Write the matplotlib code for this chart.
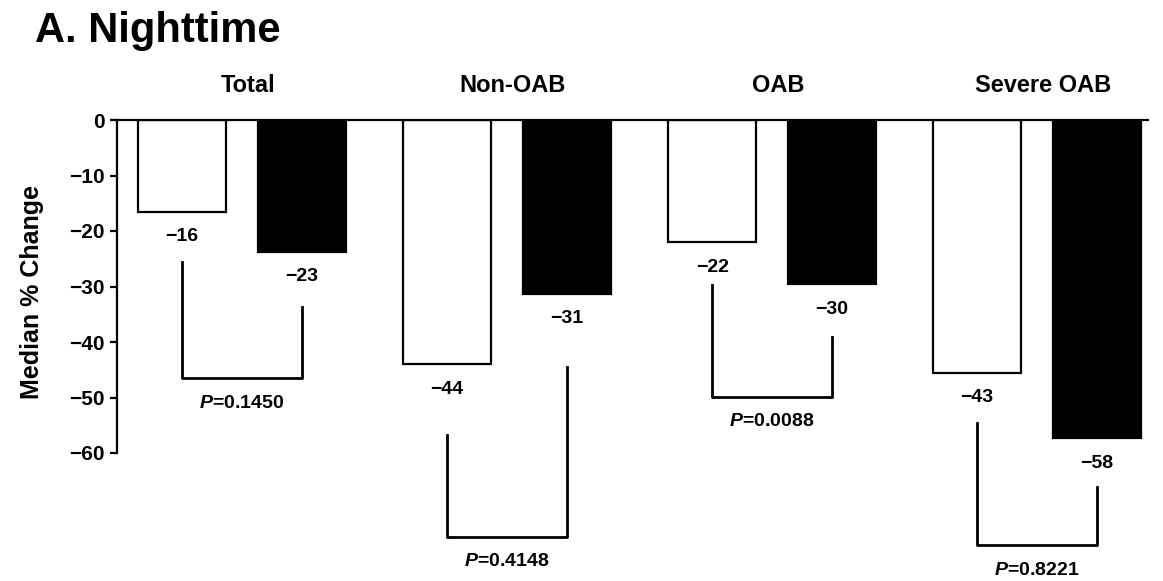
import matplotlib
matplotlib.use("Agg")
import matplotlib.pyplot as plt
import matplotlib.transforms as mtransforms
import numpy as np

plt.rcParams['font.family'] = ['Liberation Sans', 'DejaVu Sans']
plt.rcParams['mathtext.fontset'] = 'custom'
plt.rcParams['mathtext.it'] = 'Liberation Sans:italic:bold'
plt.rcParams['mathtext.rm'] = 'Liberation Sans:bold'

# data
groups = ['Total', 'Non-OAB', 'OAB', 'Severe OAB']
white_vals = [-16.5, -44.0, -22.0, -45.5]
black_vals = [-23.7, -31.3, -29.6, -57.3]
white_labels = ['\u221216', '\u221244', '\u221222', '\u221243']
black_labels = ['\u221223', '\u221231', '\u221230', '\u221258']
# brackets: top of left leg, top of right leg, bottom line
bracket_left = [-25.6, -56.8, -29.7, -54.6]
bracket_right = [-33.7, -44.5, -39.1, -66.1]
bracket_bottom = [-46.5, -75.1, -49.9, -76.6]
p_values = ['0.1450', '0.4148', '0.0088', '0.8221']

fig = plt.figure(figsize=(11.63, 5.81), dpi=100)
ax = fig.add_axes([117 / 1163, 0, 1031 / 1163, 1 - 120 / 581])

x = np.arange(len(groups))
off = 0.226
w = 0.33

ax.bar(x - off, white_vals, w, color='white', edgecolor='black', linewidth=1.6)
ax.bar(x + off, black_vals, w, color='black', edgecolor='black', linewidth=1.6)

# group titles sit above the zero line, a little right of centre
title_tr = ax.get_xaxis_transform() + mtransforms.ScaledTranslation(6 / 100, 20 / 72, fig.dpi_scale_trans)

for i in range(len(groups)):
    ax.annotate(white_labels[i], (x[i] - off, white_vals[i]), xytext=(0, -18),
                textcoords='offset points', ha='center', va='center', fontsize=14, fontweight='bold')
    ax.annotate(black_labels[i], (x[i] + off, black_vals[i]), xytext=(0, -18),
                textcoords='offset points', ha='center', va='center', fontsize=14, fontweight='bold')
    xl, xr = x[i] - off, x[i] + off
    ax.plot([xl, xl, xr, xr], [bracket_left[i], bracket_bottom[i], bracket_bottom[i], bracket_right[i]],
            color='black', linewidth=2, clip_on=False)
    ax.annotate(r'$\it{P}$=' + p_values[i], (x[i], bracket_bottom[i]), xytext=(0, -18),
                textcoords='offset points', ha='center', va='center', fontsize=14, fontweight='bold')
    ax.text(x[i], 1.0, groups[i], transform=title_tr, ha='center', va='baseline',
            fontsize=17, fontweight='bold')

ax.set_xlim(-0.472, 3.419)
ax.set_ylim(-(581 - 120) / 5.55, 0)

ax.spines['right'].set_visible(False)
ax.spines['bottom'].set_visible(False)
ax.spines['top'].set_linewidth(1.6)
ax.spines['left'].set_linewidth(1.6)
ax.spines['left'].set_bounds(-60, 0)

ax.set_yticks([0, -10, -20, -30, -40, -50, -60])
ax.set_yticklabels(['0', '\u221210', '\u221220', '\u221230', '\u221240', '\u221250', '\u221260'],
                   fontweight='bold')
ax.tick_params(axis='y', direction='out', length=5, width=1.6, labelsize=15, pad=4)
ax.set_xticks([])

ax.set_ylabel('Median % Change', fontsize=18, fontweight='bold')
ax.yaxis.set_label_coords(-(117 - 44) / 1031, 1 - 31 / 83.06)

fig.text(35 / 1163, 1 - 31 / 581, 'A. Nighttime', fontsize=30, fontweight='bold', va='center', ha='left')

fig.savefig('out.png', dpi=100)
